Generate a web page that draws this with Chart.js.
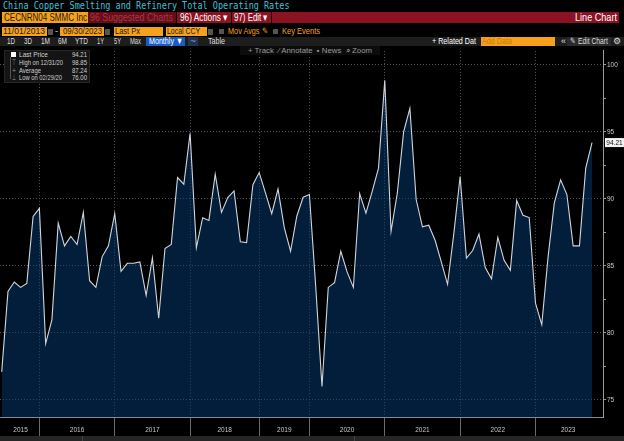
<!DOCTYPE html>
<html>
<head>
<meta charset="utf-8">
<script src="https://cdn.jsdelivr.net/npm/chart.js@4.4.1/dist/chart.umd.min.js"></script>
<style>
  html, body { margin: 0; padding: 0; background: #000; }
  body { width: 624px; height: 441px; position: relative; overflow: hidden;
         font-family: "Liberation Sans", Arial, sans-serif; }
  .abs { position: absolute; white-space: nowrap; box-sizing: border-box; }
  .box { position: absolute; box-sizing: border-box; }
  .t { position: absolute; white-space: nowrap; display: inline-block; transform-origin: 0 50%; }
  .title { left: 3px; top: 0px; font: 10px "DejaVu Sans Mono", monospace; color: #3fc0d6;
           transform: scaleX(0.85); transform-origin: left top; line-height: 11px; }
  .r2 { top: 12px; height: 11px; font-size: 10.5px; line-height: 11px; }
  .r3 { top: 27px; height: 9px; font-size: 9px; line-height: 9px; }
  .r4 { top: 37px; height: 9px; font-size: 9px; line-height: 9px; color: #ddd; }
  .orange { background: #f7a11a; }
  .red { background: #8a1222; }
  .icon { background: #555; }
  .lg { font-size: 8px; line-height: 7px; color: #cfcfcf; }
</style>
</head>
<body>
<div class="abs title">China Copper Smelting and Refinery Total Operating Rates</div>

<!-- row 2 boxes -->
<div class="box r2 orange" style="left:2px;width:86px"></div>
<div class="box r2" style="left:88px;width:88px;background:#6a0c18"></div>
<div class="box r2 red" style="left:177px;width:54px"></div>
<div class="box r2 red" style="left:232px;width:39px"></div>
<div class="box r2 red" style="left:272px;width:347px"></div>
<span class="t r2" data-x="4" data-w="83" style="color:#1a1a1a">CECNRN04 SMMC Inc</span>
<span class="t r2" data-x="90" data-w="83" style="color:#a43a4a">96 Suggested Charts</span>
<span class="t r2" data-x="180" data-w="48" style="color:#fff">96) Actions ▾</span>
<span class="t r2" data-x="234" data-w="34" style="color:#fff">97) Edit ▾</span>
<span class="t r2" data-x="575" data-w="42" style="color:#fff">Line Chart</span>

<!-- row 3 -->
<div class="box r3 orange" style="left:2px;width:45px"></div>
<div class="box r3 icon" style="left:48px;width:5px;top:29px;height:6px"></div>
<div class="box r3 orange" style="left:60px;width:44px"></div>
<div class="box r3 icon" style="left:105px;width:5px;top:29px;height:6px"></div>
<div class="box r3 orange" style="left:114px;width:49px"></div>
<div class="box r3 orange" style="left:166px;width:41px"></div>
<div class="box r3 icon" style="left:208px;width:5px;top:29px;height:6px"></div>
<div class="box r3 icon" style="left:219px;width:5px;top:29px;height:5px"></div>
<div class="box r3 icon" style="left:273px;width:5px;top:29px;height:5px"></div>
<span class="t r3" data-x="3" data-w="42" style="color:#1a1a1a">11/01/2013</span>
<span class="t r3" data-x="55" data-w="3" style="color:#ddd">-</span>
<span class="t r3" data-x="63" data-w="39" style="color:#1a1a1a">09/30/2023</span>
<span class="t r3" data-x="115" data-w="25" style="color:#1a1a1a">Last Px</span>
<span class="t r3" data-x="167" data-w="33" style="color:#1a1a1a">Local CCY</span>
<span class="t r3" data-x="228" data-w="40" style="color:#f7a11a">Mov Avgs ✎</span>
<span class="t r3" data-x="282" data-w="38" style="color:#f7a11a">Key Events</span>

<!-- row 4 -->
<div class="box r4" style="left:0;width:624px;background:#1d1d1d"></div>
<div class="box r4" style="left:146px;width:39px;background:#1b5cc4"></div>
<div class="box r4" style="left:188px;width:10px;background:#24324a"></div>
<div class="box r4 orange" style="left:481px;width:74px"></div>
<div class="box r4" style="left:567px;width:44px;background:#2a2a2a"></div>
<span class="t r4" data-x="7" data-w="8">1D</span>
<span class="t r4" data-x="24" data-w="8">3D</span>
<span class="t r4" data-x="41" data-w="9">1M</span>
<span class="t r4" data-x="58" data-w="9">6M</span>
<span class="t r4" data-x="75" data-w="13">YTD</span>
<span class="t r4" data-x="97" data-w="7">1Y</span>
<span class="t r4" data-x="114" data-w="7">5Y</span>
<span class="t r4" data-x="130" data-w="11">Max</span>
<span class="t r4" data-x="149" data-w="34" style="color:#fff">Monthly ▼</span>
<span class="t r4" data-x="190" data-w="6" style="color:#6c9ce0">~</span>
<span class="t r4" data-x="208" data-w="17">Table</span>
<span class="t r4" data-x="432" data-w="44" style="color:#fff">+ Related Dat</span>
<span class="t r4" data-x="482" data-w="30" style="color:#c77c00">Add Data</span>
<span class="t r4" data-x="561" data-w="5">«</span>
<span class="t r4" data-x="570" data-w="38">✎ Edit Chart</span>
<span class="t r4" data-x="613" data-w="8">⚙</span>

<!-- chart -->
<div class="abs" style="left:0;top:46px;width:624px;height:390px">
  <canvas id="rateChart"></canvas>
</div>

<div class="box" style="left:240px;top:46px;width:140px;height:9px;background:#0c0c0c"></div>
<span class="t" data-x="248" data-w="124" style="top:46px;font-size:7.5px;line-height:9px;color:#9a9a9a">+ Track &nbsp;⁄ Annotate &nbsp;▪ News &nbsp;⌕ Zoom</span>

<!-- legend -->
<div class="box" style="left:4px;top:50px;width:86px;height:33px;background:#141414;border:1px solid #262626"></div>
<div class="box" style="left:10px;top:57px;width:1px;height:22px;background:#555"></div>
<div class="box" style="left:11px;top:52px;width:5px;height:5px;background:#fff"></div>
<span class="t lg" data-x="12" data-w="4" style="top:59px;color:#999">⊤</span>
<span class="t lg" data-x="12" data-w="4" style="top:67px;color:#999">+</span>
<span class="t lg" data-x="12" data-w="4" style="top:74px;color:#999">⊥</span>
<span class="t lg" data-x="19" data-w="29" style="top:51px">Last Price</span>
<span class="t lg" data-x="19" data-w="44" style="top:59px">High on 12/31/20</span>
<span class="t lg" data-x="19" data-w="22" style="top:66.5px">Average</span>
<span class="t lg" data-x="19" data-w="43" style="top:74px">Low on 02/29/20</span>
<span class="t lg" data-x="72" data-w="15" style="top:51px">94.21</span>
<span class="t lg" data-x="72" data-w="15" style="top:59px">98.85</span>
<span class="t lg" data-x="72" data-w="15" style="top:66.5px">87.24</span>
<span class="t lg" data-x="72" data-w="15" style="top:74px">76.00</span>

<div class="box" style="left:0;top:436px;width:624px;height:5px;background:#262626"></div>
<div class="box" style="left:82px;top:436px;width:1px;height:5px;background:#444"></div>
<div class="box" style="left:354px;top:436px;width:1px;height:5px;background:#444"></div>

<script>
// squeeze each label to the width it takes in the terminal screenshot
document.querySelectorAll(".t").forEach(el => {
  const w = el.getBoundingClientRect().width;
  const target = parseFloat(el.dataset.w);
  el.style.left = el.dataset.x + "px";
  if (w > 0) el.style.transform = "scaleX(" + (target / w) + ")";
});

// monthly operating rate (%), Jun 2015 .. Sep 2023, one value per observation
const rates = [
  77.1, 83.1, 83.8, 83.4, 83.7, 88.7, 89.3,
  79.2, 81.0, 88.2, 86.5, 87.2, 86.6, 89.0, 83.9, 83.4, 85.7, 86.5, 88.9,
  84.6, 85.2, 85.2, 85.3, 82.8, 85.6, 81.1, 86.3, 86.6, 91.6, 91.1, 94.9,
  86.35, 88.6, 88.4, 91.85, 89.0, 90.1, 90.6, 86.8, 86.75, 91.06, 91.97,
  90.45, 88.9, 90.74, 87.87, 86.1, 88.73, 90.13, 90.33,
  83.5, 76.0, 83.4, 83.75, 86.1, 84.56, 83.4, 90.4, 88.95, 90.57, 92.3, 98.85,
  87.58, 90.45, 95.0, 96.76, 89.96, 87.92, 88.04, 86.94, 85.3, 83.63, 87.43, 91.68,
  85.59, 86.15, 87.38, 84.88, 84.04, 87.14, 85.42, 84.68, 89.88, 88.78, 88.61, 82.23,
  80.63, 85.66, 89.71, 91.43, 90.33, 86.5, 86.5, 92.3, 94.21
];

// index of the December point that closes each year
const yearBreaks = [6, 18, 30, 41, 49, 61, 73, 85];
const years = ["2015", "2016", "2017", "2018", "2019", "2020", "2021", "2022", "2023"];
const yMajorTicks = [75, 80, 85, 90, 95, 100];
const yMinorTicks = [77.5, 82.5, 87.5, 92.5, 97.5];

const X_MIN = -0.27, X_MAX = 95.75;
const Y_MIN = 73.73, Y_MAX = 101.05;

// year labels sit in the middle of each year's span
const edges = [0, ...yearBreaks, 95.4];
const yearLabelAt = new Map();
years.forEach((y, i) => yearLabelAt.set((edges[i] + edges[i + 1]) / 2, y));

const isBreak = v => yearBreaks.includes(v);
const isMajor = v => yMajorTicks.includes(v);
const tickFont = "'Liberation Sans', Arial, sans-serif";

const lastPriceTag = {
  id: "lastPriceTag",
  afterDraw(chart) {
    const ctx = chart.ctx;
    const ys = chart.scales.y;
    const last = rates[rates.length - 1];
    const y = ys.getPixelForValue(last);
    const x = chart.chartArea.right + 1;
    ctx.save();
    ctx.fillStyle = "#f2f2f2";
    ctx.fillRect(x + 1, y - 4.5, 19, 9);
    ctx.fillStyle = "#111";
    ctx.font = "6.5px " + tickFont;
    ctx.textBaseline = "middle";
    ctx.textAlign = "center";
    ctx.fillText(last.toFixed(2), x + 10.5, y + 0.5);
    ctx.restore();
  }
};

const ctx = document.getElementById("rateChart").getContext("2d");
new Chart(ctx, {
  type: "line",
  data: {
    datasets: [{
      data: rates.map((v, i) => ({ x: i, y: v })),
      borderColor: "#d2d6dc",
      borderWidth: 1.1,
      backgroundColor: "rgba(6,60,118,0.5)",
      fill: "start",
      pointRadius: 0,
      tension: 0
    }]
  },
  options: {
    responsive: true,
    maintainAspectRatio: false,
    animation: false,
    devicePixelRatio: 1,
    layout: { padding: 0 },
    plugins: { legend: { display: false }, tooltip: { enabled: false } },
    scales: {
      x: {
        type: "linear",
        min: X_MIN,
        max: X_MAX,
        afterBuildTicks: scale => {
          const vals = [...yearBreaks, ...yearLabelAt.keys()].sort((a, b) => a - b);
          scale.ticks = vals.map(v => ({ value: v }));
        },
        afterFit: scale => { scale.height = 19; scale.paddingLeft = 0; scale.paddingRight = 0; },
        ticks: {
          autoSkip: false,
          maxRotation: 0,
          padding: -10,
          color: "#c8c8c8",
          font: { size: 6.5, family: tickFont },
          callback: v => yearLabelAt.get(v) || ""
        },
        grid: {
          color: c => (c.tick && isBreak(c.tick.value)) ? "#555" : "rgba(0,0,0,0)",
          tickColor: c => (c.tick && isBreak(c.tick.value)) ? "#6a6a6a" : "rgba(0,0,0,0)",
          tickLength: 19,
          tickBorderDash: [],
          lineWidth: 1
        },
        border: { display: true, color: "#7f8b99", width: 1, dash: [1, 2] }
      },
      y: {
        position: "right",
        min: Y_MIN,
        max: Y_MAX,
        afterBuildTicks: scale => {
          scale.ticks = [...yMajorTicks, ...yMinorTicks].sort((a, b) => a - b).map(v => ({ value: v }));
        },
        afterFit: scale => { scale.width = 21; },
        ticks: {
          autoSkip: false,
          padding: 1,
          color: "#c8c8c8",
          font: { size: 6.5, family: tickFont },
          callback: v => isMajor(v) ? String(v) : ""
        },
        grid: {
          color: c => (c.tick && isMajor(c.tick.value)) ? "#555" : "rgba(0,0,0,0)",
          tickColor: "#9a9a9a",
          tickLength: 3,
          tickBorderDash: []
        },
        border: { display: true, color: "#9a9a9a", width: 1, dash: [1, 2] }
      }
    }
  },
  plugins: [lastPriceTag]
});
</script>
</body>
</html>
